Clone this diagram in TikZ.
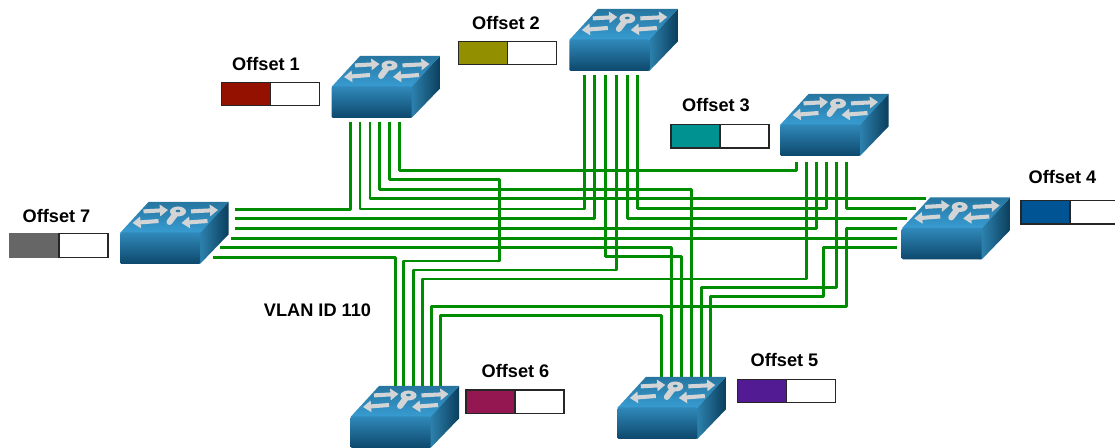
\documentclass[tikz,border=0pt]{standalone}
\usepackage{xcolor}
\usepackage{fontspec}
\setmainfont{Liberation Sans}
\usepackage{tikz}
\usetikzlibrary{positioning,arrows.meta}
\definecolor{wirecol}{HTML}{008C00}
\definecolor{keycol}{HTML}{D2D4D6}
\definecolor{offcayenne}{HTML}{941100}
\definecolor{offolive}{HTML}{929000}
\definecolor{offteal}{HTML}{009191}
\definecolor{offocean}{HTML}{005493}
\definecolor{offgrape}{HTML}{531B93}
\definecolor{offmaroon}{HTML}{941751}
\definecolor{offgrey}{HTML}{666666}
\definecolor{topback}{HTML}{2676A0}
\definecolor{topfront}{HTML}{389CD2}
\definecolor{sidelight}{HTML}{2F86B4}
\definecolor{sidedark}{HTML}{0B3E5C}
\definecolor{frontlight}{HTML}{3089BA}
\definecolor{frontdark}{HTML}{0D486C}
\definecolor{keyhole}{HTML}{2D7DA8}

\begin{document}
\begin{tikzpicture}[
    x=0.02cm, y=-0.02cm,
    wire/.style={draw=wirecol, line width=1.7008pt, line join=round},
    lbl/.style={font=\fontsize{10.35}{12}\selectfont\bfseries, inner sep=0pt},
    slotfull/.style={rectangle, draw=black!85, line width=0.7pt, minimum width=0.98cm, minimum height=0.47cm, inner sep=0pt, outer sep=0pt},
    slotfree/.style={slotfull, fill=white, right=0pt of #1},
    keyarrow/.style={draw=keycol, line width=2.3pt, -{Triangle[length=4.6pt,width=6.4pt]}},
    netswitch/.pic={
        \shade[left color=sidelight, right color=sidedark] (78,31) -- (108.5,0) -- (108.5,32.5) -- (80,62) -- (78,62) -- cycle;
        \shade[top color=topback, bottom color=topfront] (28.5,0) -- (108.5,0) -- (80,31) -- (0,31) -- cycle;
        \shade[top color=frontlight, bottom color=frontdark, rounded corners=0.8pt] (0,30.5) rectangle (80,62);
        \draw[keyarrow] (23.5,9.4) -- (48,8);
        \draw[keyarrow] (71,9.4) -- (98,8);
        \draw[keyarrow] (38.5,19) -- (12.5,21);
        \draw[keyarrow] (87.5,19) -- (61.5,21);
        \draw[keycol, line width=3.4pt, line cap=round] (55.5,12) -- (49.5,20);
        \fill[keycol] (58,9.5) ellipse (8 and 5);
        \fill[keyhole] (58,9) ellipse (2.4 and 1.3);
        \node[inner sep=0pt, minimum width=2.17cm, minimum height=1.24cm] (-body) at (54.25,31) {};
    }
]
    \useasboundingbox (0,0) rectangle (1115,448);

    \foreach \i/\x in {1/350.3,2/360,3/370,4/379.7,5/389.7,6/399.3} \coordinate (s1p\i) at (\x,121.7);
    \foreach \i/\x in {1/584,2/594.3,3/605.3,4/616.7,5/627.3,6/637.7} \coordinate (s2p\i) at (\x,75);
    \foreach \i/\x in {1/796,2/806,3/816,4/826,5/836,6/846} \coordinate (s3p\i) at (\x,161.7);
    \foreach \i/\x/\y in {1/926/198.8,2/916/208.3,3/906.7/218.3,4/896.7/228.3,5/896.7/238.2,6/896.7/247.7} \coordinate (s4p\i) at (\x,\y);
    \foreach \i/\x in {1/661.7,2/671.3,3/681.3,4/691,5/701,6/710.7} \coordinate (s5p\i) at (\x,377);
    \foreach \i/\x in {1/395,2/403.3,3/413.3,4/422.7,5/431.7,6/440.7} \coordinate (s6p\i) at (\x,387);
    \foreach \i/\x/\y in {1/235/209.5,2/235/218.3,3/235/228.3,4/231/238.2,5/220/247.7,6/212.7/257.3} \coordinate (s7p\i) at (\x,\y);

    \draw[wire] (s1p1) |- (s7p1);
    \draw[wire] (s1p2) |- (s2p1 |- 0,209) -- (s2p1);
    \draw[wire] (s1p3) |- (s4p1);
    \draw[wire] (s1p4) |- (s5p4 |- 0,189.5) -- (s5p4);
    \draw[wire] (s1p5) |- (499.3,180) |- (s6p2 |- 0,261) -- (s6p2);
    \draw[wire] (s1p6) |- (s3p1 |- 0,170.7) -- (s3p1);
    \draw[wire] (s2p2) |- (s7p2);
    \draw[wire] (s2p3) |- (s5p3 |- 0,256.7) -- (s5p3);
    \draw[wire] (s2p4) |- (s6p3 |- 0,270) -- (s6p3);
    \draw[wire] (s2p5) |- (s4p3);
    \draw[wire] (s2p6) |- (s3p4 |- 0,208.3) -- (s3p4);
    \draw[wire] (s3p2) |- (s6p4 |- 0,279) -- (s6p4);
    \draw[wire] (s3p3) |- (s7p3);
    \draw[wire] (s3p5) |- (s5p5 |- 0,287.3) -- (s5p5);
    \draw[wire] (s3p6) |- (s4p2);
    \draw[wire] (s4p4) -| (846.7,306.3) -| (s6p5);
    \draw[wire] (s4p5) -- (s7p4);
    \draw[wire] (s4p6) -| (823.3,296.7) -| (s5p6);
    \draw[wire] (s5p1) |- (s6p6 |- 0,315.5) -- (s6p6);
    \draw[wire] (s5p2) |- (s7p5);
    \draw[wire] (s6p1) |- (s7p6);

    \pic (sw1) at (331.5,56) {netswitch};
    \pic (sw2) at (569.3,9) {netswitch};
    \pic (sw3) at (780,94) {netswitch};
    \pic (sw4) at (901.7,197.5) {netswitch};
    \pic (sw5) at (617.3,377) {netswitch};
    \pic (sw6) at (350.5,386) {netswitch};
    \pic (sw7) at (120,202) {netswitch};

    \node[lbl] (off1) at (266,64.5) {Offset 1};
    \node[lbl] (off2) at (506,23) {Offset 2};
    \node[lbl] (off3) at (716,105.5) {Offset 3};
    \node[lbl] (off4) at (1062.5,177.5) {Offset 4};
    \node[lbl] (off5) at (784.5,360) {Offset 5};
    \node[lbl] (off6) at (515.5,371) {Offset 6};
    \node[lbl] (off7) at (56.5,216) {Offset 7};
    \node[lbl] (vlan) at (317.5,310.5) {VLAN ID 110};

    \node[slotfull, fill=offcayenne] (bar1) at (246,94) {};
    \node[slotfree=bar1] (free1) {};
    \node[slotfull, fill=offolive] (bar2) at (483,53) {};
    \node[slotfree=bar2] (free2) {};
    \node[slotfull, fill=offteal] (bar3) at (695.5,136.3) {};
    \node[slotfree=bar3] (free3) {};
    \node[slotfull, fill=offocean] (bar4) at (1045.5,212.2) {};
    \node[slotfree=bar4] (free4) {};
    \node[slotfull, fill=offgrape] (bar5) at (762,391) {};
    \node[slotfree=bar5] (free5) {};
    \node[slotfull, fill=offmaroon] (bar6) at (490.5,401.8) {};
    \node[slotfree=bar6] (free6) {};
    \node[slotfull, fill=offgrey, draw=offgrey] (bar7) at (34.5,245.5) {};
    \node[slotfree=bar7] (free7) {};
\end{tikzpicture}
\end{document}
